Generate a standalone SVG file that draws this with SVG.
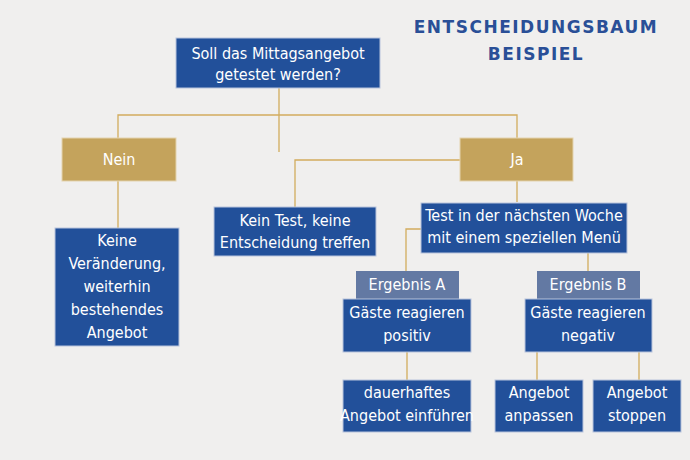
<svg xmlns="http://www.w3.org/2000/svg" width="690" height="460" viewBox="0 0 690 460">
<style>
.b{fill:#22509a;stroke:#b8c4dc;stroke-width:1}
.g{fill:#c4a35c;stroke:#e3d3ae;stroke-width:1}
.e{fill:#6379a3}
.t{font-family:"Liberation Sans Narrow","DejaVu Sans Condensed",sans-serif;font-size:16px;fill:#fff;text-anchor:middle}
.c{fill:none;stroke:#d2ac5e;stroke-width:1.3}
.h{font-family:"DejaVu Sans","Liberation Sans",sans-serif;font-weight:bold;font-size:17px;fill:#2a4f97;text-anchor:middle;letter-spacing:1.5px}
</style>
<rect width="690" height="460" fill="#f0efee"/>
<text class="h" x="536" y="33">ENTSCHEIDUNGSBAUM</text>
<text class="h" x="536" y="60">BEISPIEL</text>
<g id="connectors">
<path class="c" d="M279 88V152M118 138V115H517V138M118 181V228M460 160H295V207M517 181V202M421 229H406V271M588 253V271M407 352V380M537 352V380M639 352V380"/>
</g>
<g id="root"><rect class="b" x="176" y="38" width="204" height="50"/><text class="t" x="278" y="59">Soll das Mittagsangebot</text><text class="t" x="278" y="80">getestet werden?</text></g>
<g id="nein"><rect class="g" x="62" y="138" width="114" height="43"/><text class="t" x="119" y="165">Nein</text></g>
<g id="ja"><rect class="g" x="460" y="138" width="113" height="43"/><text class="t" x="517" y="165">Ja</text></g>
<g id="keine"><rect class="b" x="55" y="228" width="124" height="118"/>
<text class="t" x="117" y="246">Keine</text><text class="t" x="117" y="269">Veränderung,</text><text class="t" x="117" y="292">weiterhin</text><text class="t" x="117" y="315">bestehendes</text><text class="t" x="117" y="338">Angebot</text></g>
<g id="keintest"><rect class="b" x="214" y="207" width="162" height="49"/><text class="t" x="295" y="226">Kein Test, keine</text><text class="t" x="295" y="248">Entscheidung treffen</text></g>
<g id="test"><rect class="b" x="421" y="203" width="206" height="50"/><text class="t" x="524" y="221">Test in der nächsten Woche</text><text class="t" x="524" y="243">mit einem speziellen Menü</text></g>
<g id="ergA"><rect class="e" x="356" y="271" width="103" height="28"/><text class="t" x="407" y="290">Ergebnis A</text></g>
<g id="ergB"><rect class="e" x="537" y="271" width="103" height="28"/><text class="t" x="588" y="290">Ergebnis B</text></g>
<g id="pos"><rect class="b" x="343" y="299" width="128" height="53"/><text class="t" x="407" y="318">Gäste reagieren</text><text class="t" x="407" y="341">positiv</text></g>
<g id="neg"><rect class="b" x="525" y="299" width="127" height="53"/><text class="t" x="588" y="318">Gäste reagieren</text><text class="t" x="588" y="341">negativ</text></g>
<g id="dauer"><rect class="b" x="343" y="380" width="128" height="52"/><text class="t" x="407" y="398">dauerhaftes</text><text class="t" x="407" y="421">Angebot einführen</text></g>
<g id="anpassen"><rect class="b" x="495" y="380" width="88" height="52"/><text class="t" x="539" y="398">Angebot</text><text class="t" x="539" y="421">anpassen</text></g>
<g id="stoppen"><rect class="b" x="593" y="380" width="88" height="52"/><text class="t" x="637" y="398">Angebot</text><text class="t" x="637" y="421">stoppen</text></g>
</svg>
